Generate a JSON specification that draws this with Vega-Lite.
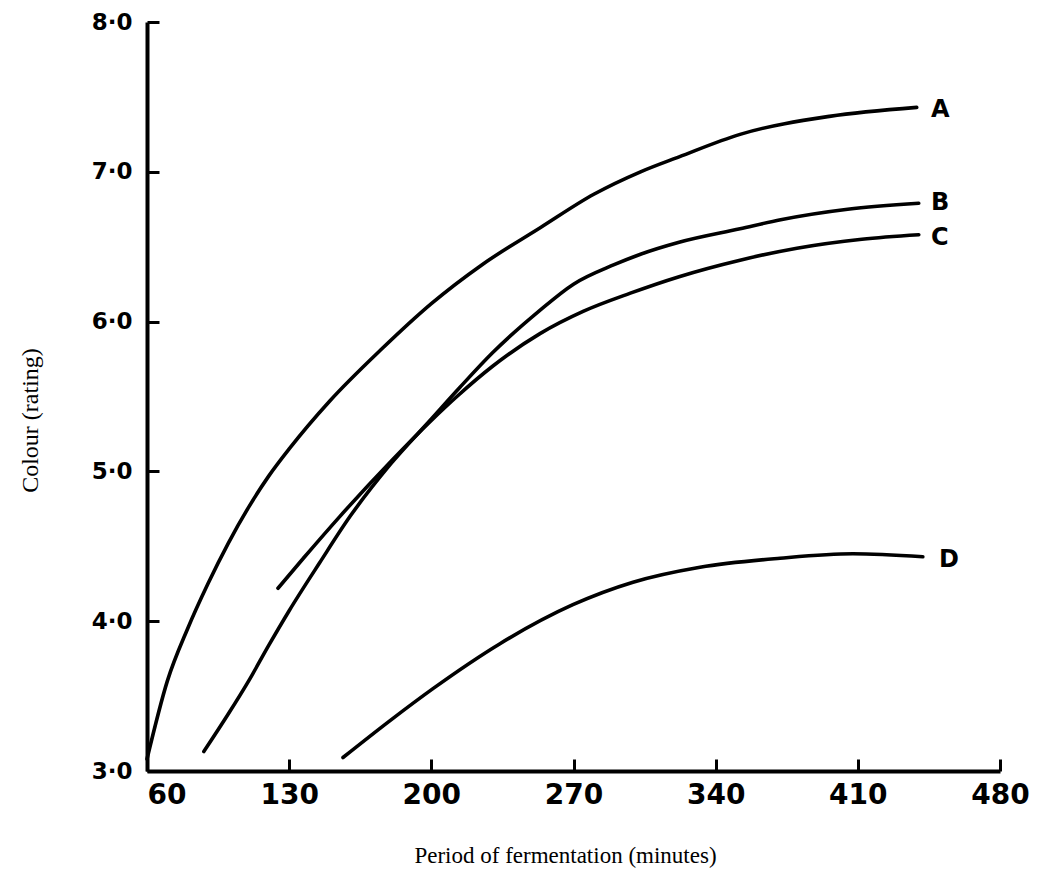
{
  "$schema": "https://vega.github.io/schema/vega-lite/v6.json",
  "width": 853,
  "height": 749,
  "autosize": {"type": "none"},
  "padding": {"left": 147, "top": 22, "right": 41, "bottom": 109},
  "background": "white",
  "config": {"view": {"stroke": null}},
  "datasets": {
    "curves": [
      {"series": "A", "minutes": 60, "rating": 3.08},
      {"series": "A", "minutes": 70, "rating": 3.6},
      {"series": "A", "minutes": 80, "rating": 3.95},
      {"series": "A", "minutes": 90, "rating": 4.25},
      {"series": "A", "minutes": 100, "rating": 4.52},
      {"series": "A", "minutes": 110, "rating": 4.76},
      {"series": "A", "minutes": 120, "rating": 4.97},
      {"series": "A", "minutes": 130, "rating": 5.15},
      {"series": "A", "minutes": 150, "rating": 5.47},
      {"series": "A", "minutes": 175, "rating": 5.81},
      {"series": "A", "minutes": 200, "rating": 6.12},
      {"series": "A", "minutes": 225, "rating": 6.38},
      {"series": "A", "minutes": 254, "rating": 6.63},
      {"series": "A", "minutes": 280, "rating": 6.85},
      {"series": "A", "minutes": 303, "rating": 7.0},
      {"series": "A", "minutes": 322, "rating": 7.1},
      {"series": "A", "minutes": 352, "rating": 7.25},
      {"series": "A", "minutes": 396, "rating": 7.37},
      {"series": "A", "minutes": 439, "rating": 7.43},
      {"series": "B", "minutes": 88, "rating": 3.13},
      {"series": "B", "minutes": 100, "rating": 3.38},
      {"series": "B", "minutes": 110, "rating": 3.6},
      {"series": "B", "minutes": 120, "rating": 3.84},
      {"series": "B", "minutes": 130, "rating": 4.07},
      {"series": "B", "minutes": 145, "rating": 4.39},
      {"series": "B", "minutes": 160, "rating": 4.7},
      {"series": "B", "minutes": 180, "rating": 5.05},
      {"series": "B", "minutes": 200, "rating": 5.35},
      {"series": "B", "minutes": 214, "rating": 5.56},
      {"series": "B", "minutes": 230, "rating": 5.79},
      {"series": "B", "minutes": 253, "rating": 6.07},
      {"series": "B", "minutes": 270, "rating": 6.25},
      {"series": "B", "minutes": 290, "rating": 6.38},
      {"series": "B", "minutes": 303, "rating": 6.45},
      {"series": "B", "minutes": 322, "rating": 6.53},
      {"series": "B", "minutes": 352, "rating": 6.62},
      {"series": "B", "minutes": 372, "rating": 6.68},
      {"series": "B", "minutes": 405, "rating": 6.75},
      {"series": "B", "minutes": 440, "rating": 6.79},
      {"series": "C", "minutes": 124.5, "rating": 4.22},
      {"series": "C", "minutes": 137, "rating": 4.42},
      {"series": "C", "minutes": 155, "rating": 4.7},
      {"series": "C", "minutes": 181, "rating": 5.08},
      {"series": "C", "minutes": 200, "rating": 5.34},
      {"series": "C", "minutes": 212.6, "rating": 5.5},
      {"series": "C", "minutes": 230, "rating": 5.7},
      {"series": "C", "minutes": 253.5, "rating": 5.92},
      {"series": "C", "minutes": 275, "rating": 6.07},
      {"series": "C", "minutes": 298, "rating": 6.19},
      {"series": "C", "minutes": 322, "rating": 6.3},
      {"series": "C", "minutes": 352, "rating": 6.41},
      {"series": "C", "minutes": 380, "rating": 6.49},
      {"series": "C", "minutes": 412, "rating": 6.55},
      {"series": "C", "minutes": 440, "rating": 6.58},
      {"series": "D", "minutes": 156.5, "rating": 3.09},
      {"series": "D", "minutes": 180, "rating": 3.34},
      {"series": "D", "minutes": 200.8, "rating": 3.55},
      {"series": "D", "minutes": 233.8, "rating": 3.85},
      {"series": "D", "minutes": 269.7, "rating": 4.11},
      {"series": "D", "minutes": 299.3, "rating": 4.26},
      {"series": "D", "minutes": 332.3, "rating": 4.36},
      {"series": "D", "minutes": 371.7, "rating": 4.42},
      {"series": "D", "minutes": 407.6, "rating": 4.45},
      {"series": "D", "minutes": 442, "rating": 4.43}
    ],
    "labels": [
      {"series": "A", "minutes": 446, "rating": 7.41},
      {"series": "B", "minutes": 446, "rating": 6.79},
      {"series": "C", "minutes": 446, "rating": 6.56},
      {"series": "D", "minutes": 450, "rating": 4.41}
    ]
  },
  "layer": [
    {
      "data": {"name": "curves"},
      "mark": {"type": "line", "interpolate": "monotone", "color": "black", "strokeWidth": 3.6, "strokeCap": "round"},
      "encoding": {
        "x": {
          "field": "minutes", "type": "quantitative",
          "scale": {"domain": [60, 480], "nice": false, "zero": false},
          "axis": {
            "title": "Period of fermentation (minutes)",
            "values": [60, 130, 200, 270, 340, 410, 480],
            "grid": false,
            "domainColor": "black", "domainWidth": 4,
            "tickColor": "black", "tickWidth": 3, "tickSize": -12,
            "labelFont": "DejaVu Sans", "labelFontWeight": "bold", "labelFontSize": 28, "labelColor": "black",
            "labelPadding": 22, "labelFlush": false,
            "labelAlign": {"condition": {"test": "datum.value == 60", "value": "left"}, "value": "center"},
            "titleFont": "Liberation Serif", "titleFontSize": 23, "titleFontWeight": "normal", "titleColor": "black",
            "titleX": 418, "titleY": 84, "titleBaseline": "middle", "titleAlign": "center"
          }
        },
        "y": {
          "field": "rating", "type": "quantitative",
          "scale": {"domain": [3, 8], "nice": false, "zero": false},
          "axis": {
            "title": "Colour (rating)",
            "values": [3, 4, 5, 6, 7, 8],
            "labelExpr": "replace(format(datum.value, '.1f'), '.', '·')",
            "grid": false,
            "domainColor": "black", "domainWidth": 4,
            "tickColor": "black", "tickWidth": 3, "tickSize": -12,
            "labelFont": "DejaVu Sans", "labelFontWeight": "bold", "labelFontSize": 23, "labelColor": "black",
            "labelPadding": 27, "labelFlush": false,
            "titleFont": "Liberation Serif", "titleFontSize": 24, "titleFontWeight": "normal", "titleColor": "black",
            "titleX": -117, "titleY": 398, "titleAngle": -90, "titleBaseline": "middle", "titleAlign": "center"
          }
        },
        "detail": {"field": "series"}
      }
    },
    {
      "data": {"name": "labels"},
      "mark": {"type": "text", "align": "left", "baseline": "middle", "font": "DejaVu Sans", "fontWeight": "bold", "fontSize": 24, "color": "black"},
      "encoding": {
        "x": {"field": "minutes", "type": "quantitative"},
        "y": {"field": "rating", "type": "quantitative"},
        "text": {"field": "series"}
      }
    }
  ]
}
